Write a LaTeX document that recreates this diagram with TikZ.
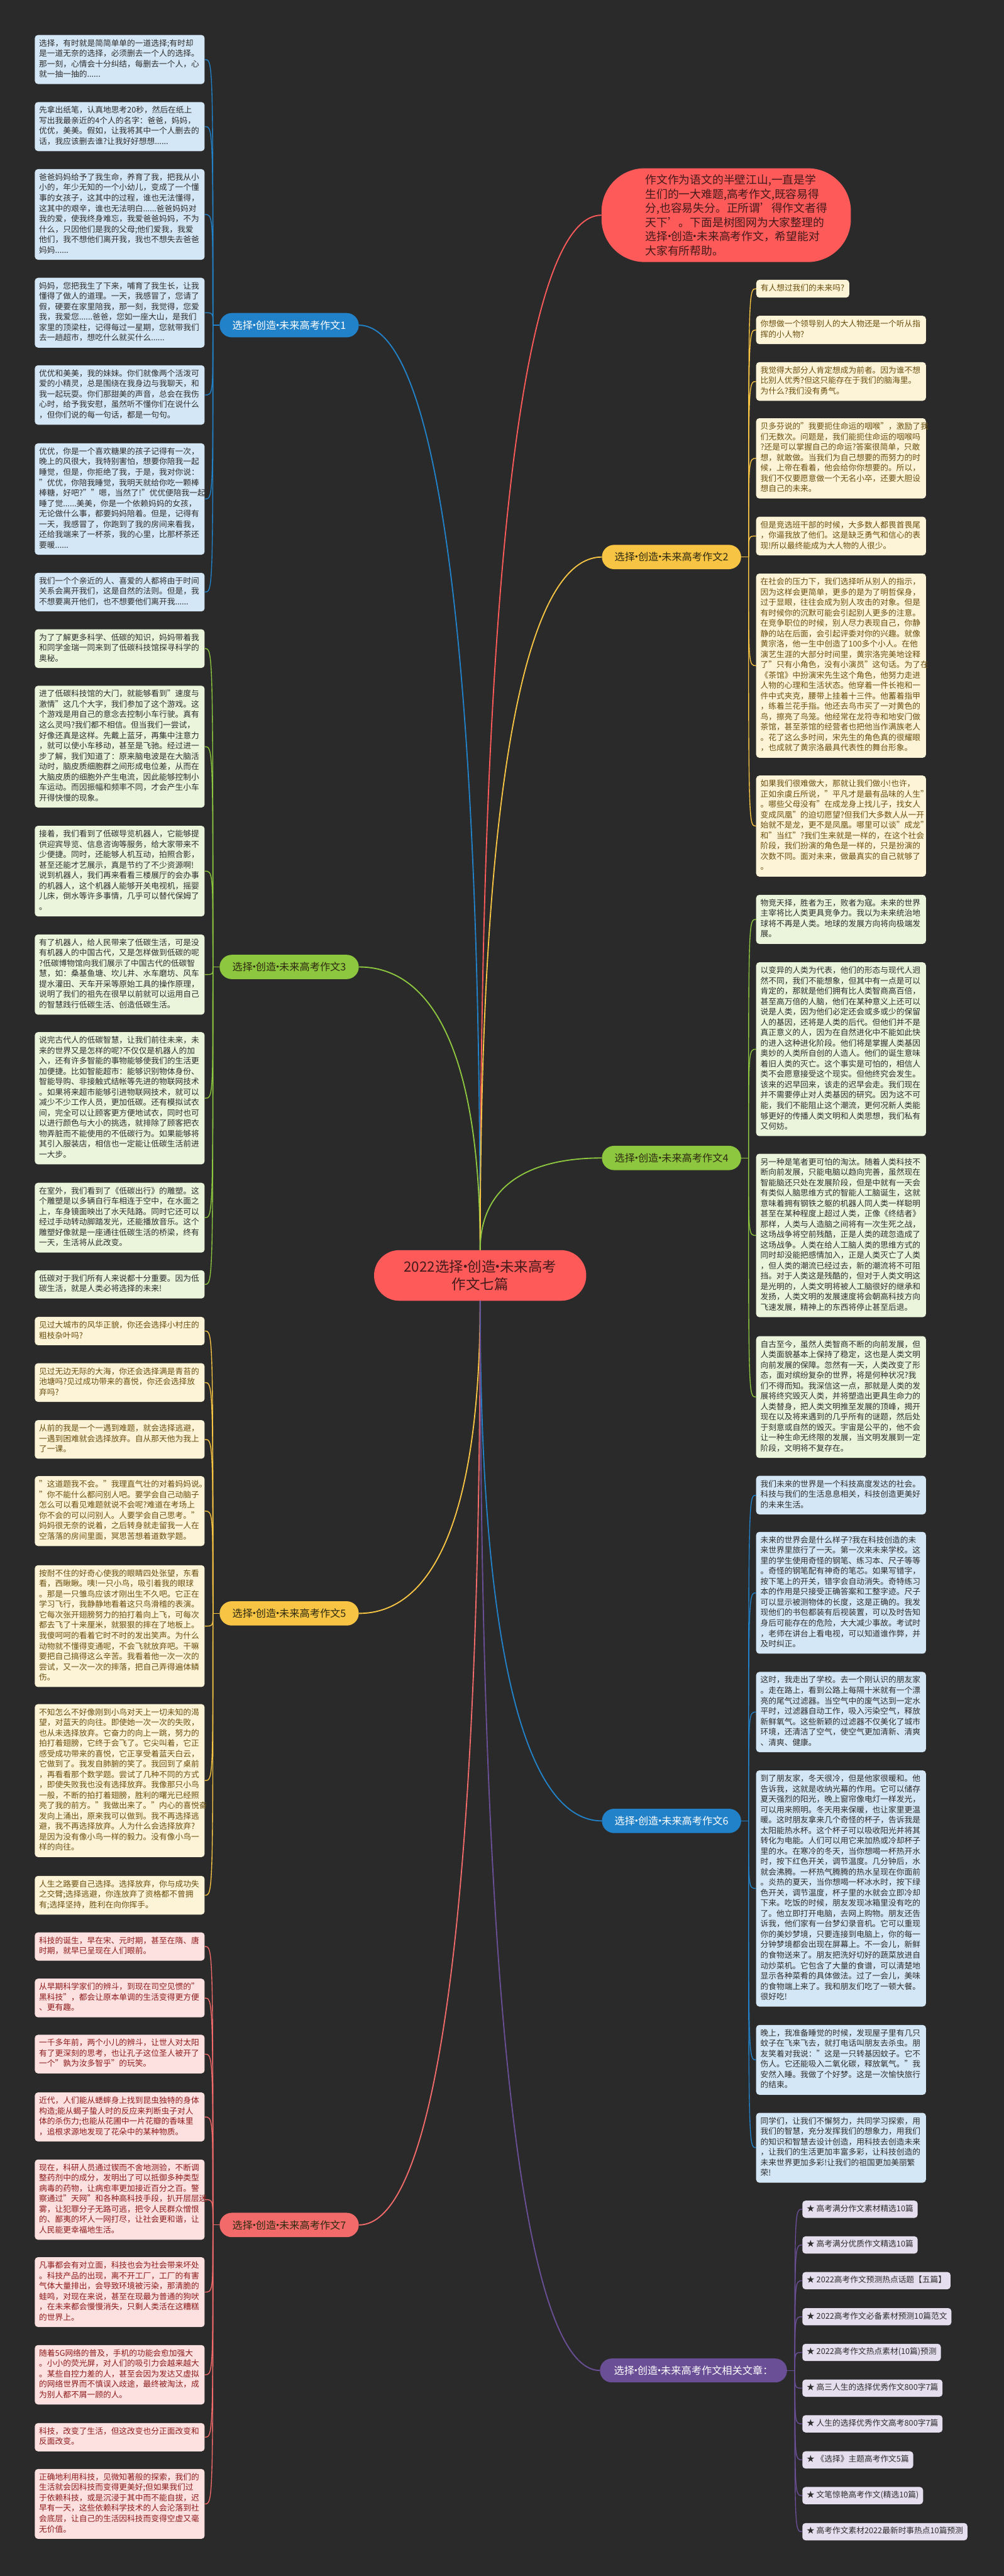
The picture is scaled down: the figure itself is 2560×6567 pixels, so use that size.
\documentclass[tikz,border=0pt]{standalone}
\usepackage{fontspec}
\setmainfont{Noto Sans CJK SC}
\usetikzlibrary{calc}
\definecolor{bg}{HTML}{2A2A2A}
\definecolor{cRed}{HTML}{FF5A5A}
\definecolor{cRedTxt}{HTML}{451A1A}
\definecolor{cBlue}{HTML}{2282C9}
\definecolor{cGreen}{HTML}{8DC63F}
\definecolor{cYellow}{HTML}{F7C443}
\definecolor{cPink}{HTML}{F26A6A}
\definecolor{cPurple}{HTML}{6A4E96}
\definecolor{fBlue}{HTML}{D4E7F6}
\definecolor{fGreen}{HTML}{EBF5DB}
\definecolor{fYellow}{HTML}{FDF4D7}
\definecolor{fPink}{HTML}{FDE1E1}
\definecolor{fPurple}{HTML}{E4DEEE}
\definecolor{tYellow}{HTML}{6B4F10}
\definecolor{tPink}{HTML}{8E1B1B}
\definecolor{tDark}{HTML}{2E2E2E}
\definecolor{tPill}{HTML}{2E2A10}
\newcommand\mmBF{\fontsize{20.4pt}{26.5pt}\selectfont}
\newcommand\mmPF{\fontsize{26pt}{30pt}\selectfont}
\newcommand\mmT[1]{\strut#1\strut}
\newcommand\mmd{\hbox to 0.3em{\hss·\hss}}
\begin{document}
\begin{tikzpicture}[x=1pt,y=-1pt,
  tbox/.style={rounded corners=8pt, inner xsep=11pt, inner ysep=9.5pt, text width=411pt, align=left, anchor=north, font=\mmBF},
  blbox/.style={tbox, fill=fBlue, text=tDark},
  grbox/.style={tbox, fill=fGreen, text=tDark},
  yebox/.style={tbox, fill=fYellow, text=tYellow},
  pkbox/.style={tbox, fill=fPink, text=tPink},
  pubox/.style={rounded corners=8pt, inner xsep=11pt, inner ysep=8.75pt, anchor=west, font=\mmBF, fill=fPurple, text=tDark},
  pill/.style={rounded corners=31pt, minimum width=355pt, minimum height=62pt, inner sep=0pt, font=\mmPF},
  cc/.style={line width=3pt},
  bc/.style={line width=2.2pt}]
\fill[bg] (0,0) rectangle (2560,6567);
\useasboundingbox (0,0) rectangle (2560,6567);

% ---------- central and intro ----------
\node[fill=cRed, text=cRedTxt, rounded corners=64pt, minimum width=541pt, minimum height=129pt, align=center, font=\fontsize{36pt}{45pt}\selectfont] (ctr) at (1224.5,3251.5) {2022选择\mmd 创造\mmd 未来高考\\作文七篇};
\node[fill=cRed, text=cRedTxt, rounded corners=110pt, minimum width=636pt, minimum height=239pt, text width=412pt, align=left, font=\fontsize{28.5pt}{36pt}\selectfont] (intro) at (1852,548.5) {作文作为语文的半壁江山,一直是学\\生们的一大难题,高考作文,既容易得\\分,也容易失分。正所谓'得作文者得\\天下'。下面是树图网为大家整理的\\选择\mmd 创造\mmd 未来高考作文，希望能对\\大家有所帮助。};

% ---------- branch pills ----------
\node[pill, fill=cBlue, text=white] (p1) at (737.5,829) {选择\mmd 创造\mmd 未来高考作文1};
\node[pill, fill=cYellow, text=tPill] (p2) at (1712.5,1420) {选择\mmd 创造\mmd 未来高考作文2};
\node[pill, fill=cGreen, text=tPill] (p3) at (737.5,2465) {选择\mmd 创造\mmd 未来高考作文3};
\node[pill, fill=cGreen, text=tPill] (p4) at (1712.5,2952) {选择\mmd 创造\mmd 未来高考作文4};
\node[pill, fill=cYellow, text=tPill] (p5) at (737.5,4113) {选择\mmd 创造\mmd 未来高考作文5};
\node[pill, fill=cBlue, text=white] (p6) at (1712.5,4642) {选择\mmd 创造\mmd 未来高考作文6};
\node[pill, fill=cPink, text=tPill] (p7) at (737.5,5672) {选择\mmd 创造\mmd 未来高考作文7};
\node[pill, fill=cPurple, text=white, minimum width=477pt, minimum height=61pt, rounded corners=30pt] (p8) at (1768.5,6043) {选择\mmd 创造\mmd 未来高考作文相关文章：};

% ---------- branch 1 (blue, left) ----------
\node[blbox] (a1) at (305.3,89) {\mmT{选择，有时就是简简单单的一道选择;有时却\\是一道无奈的选择，必须删去一个人的选择。\\那一刻，心情会十分纠结，每删去一个人，心\\就一抽一抽的......}};
\node[blbox] (a2) at (305.3,260) {\mmT{先拿出纸笔，认真地思考20秒，然后在纸上\\写出我最亲近的4个人的名字：爸爸，妈妈，\\优优，美美。假如，让我将其中一个人删去的\\话，我应该删去谁?让我好好想想......}};
\node[blbox] (a3) at (305.3,431) {\mmT{爸爸妈妈给予了我生命，养育了我，把我从小\\小的，年少无知的一个小幼儿，变成了一个懂\\事的女孩子，这其中的过程，谁也无法懂得，\\这其中的艰辛，谁也无法明白......爸爸妈妈对\\我的爱，使我终身难忘，我爱爸爸妈妈，不为\\什么，只因他们是我的父母;他们爱我，我爱\\他们，我不想他们离开我，我也不想失去爸爸\\妈妈......}};
\node[blbox] (a4) at (305.3,708) {\mmT{妈妈，您把我生了下来，哺育了我生长，让我\\懂得了做人的道理。一天，我感冒了，您请了\\假，硬要在家里陪我，那一刻，我觉得，您爱\\我，我爱您......爸爸，您如一座大山，是我们\\家里的顶梁柱，记得每过一星期，您就带我们\\去一趟超市，想吃什么就买什么......}};
\node[blbox] (a5) at (305.3,931) {\mmT{优优和美美，我的妹妹。你们就像两个活泼可\\爱的小精灵，总是围绕在我身边与我聊天，和\\我一起玩耍。你们那甜美的声音，总会在我伤\\心时，给予我安慰，虽然听不懂你们在说什么\\，但你们说的每一句话，都是一句句。}};
\node[blbox] (a6) at (305.3,1130) {\mmT{优优，你是一个喜欢糖果的孩子记得有一次，\\晚上的风很大，我特别害怕，想要你陪我一起\\睡觉，但是，你拒绝了我，于是，我对你说：\\"优优，你陪我睡觉，我明天就给你吃一颗棒\\棒糖，好吧?""嗯，当然了!"优优便陪我一起\\睡了觉......美美，你是一个依赖妈妈的女孩，\\无论做什么事，都要妈妈陪着。但是，记得有\\一天，我感冒了，你跑到了我的房间来看我，\\还给我端来了一杯茶，我的心里，比那杯茶还\\要暖......}};
\node[blbox] (a7) at (305.3,1460) {\mmT{我们一个个亲近的人、喜爱的人都将由于时间\\关系会离开我们，这是自然的法则。但是，我\\不想要离开他们，也不想要他们离开我......}};

% ---------- branch 3 (green, left) ----------
\node[grbox] (c1) at (305.3,1604) {\mmT{为了了解更多科学、低碳的知识，妈妈带着我\\和同学金瑞一同来到了低碳科技馆探寻科学的\\奥秘。}};
\node[grbox] (c2) at (305.3,1748) {\mmT{进了低碳科技馆的大门，就能够看到"速度与\\激情"这几个大字，我们参加了这个游戏。这\\个游戏是用自己的意念去控制小车行驶。真有\\这么灵吗?我们都不相信。但当我们一尝试，\\好像还真是这样。先戴上蓝牙，再集中注意力\\，就可以使小车移动，甚至是飞驰。经过进一\\步了解，我们知道了：原来脑电波是在大脑活\\动时，脑皮质细胞群之间形成电位差，从而在\\大脑皮质的细胞外产生电流，因此能够控制小\\车运动。而因振幅和频率不同，才会产生小车\\开得快慢的现象。}};
\node[grbox] (c3) at (305.3,2105) {\mmT{接着，我们看到了低碳导览机器人，它能够提\\供迎宾导览、信息咨询等服务，给大家带来不\\少便捷。同时，还能够人机互动，拍照合影，\\甚至还能才艺展示，真是节约了不少资源啊!\\说到机器人，我们再来看看三楼展厅的会办事\\的机器人，这个机器人能够开关电视机，摇婴\\儿床，倒水等许多事情，几乎可以替代保姆了\\。}};
\node[grbox] (c4) at (305.3,2382) {\mmT{有了机器人，给人民带来了低碳生活，可是没\\有机器人的中国古代，又是怎样做到低碳的呢\\?低碳博物馆向我们展示了中国古代的低碳智\\慧，如：桑基鱼塘、坎儿井、水车磨坊、风车\\提水灌田、天车开采等原始工具的操作原理，\\说明了我们的祖先在很早以前就可以运用自己\\的智慧践行低碳生活、创造低碳生活。}};
\node[grbox] (c5) at (305.3,2631) {\mmT{说完古代人的低碳智慧，让我们前往未来，未\\来的世界又是怎样的呢?不仅仅是机器人的加\\入，还有许多智能的事物能够使我们的生活更\\加便捷。比如智能超市：能够识别物体身份、\\智能导购、非接触式结帐等先进的物联网技术\\。如果将来超市能够引进物联网技术，就可以\\减少不少工作人员，更加低碳。还有模拟试衣\\间，完全可以让顾客更方便地试衣，同时也可\\以进行颜色与大小的挑选，就排除了顾客把衣\\物弄脏而不能使用的不低碳行为。如果能够将\\其引入服装店，相信也一定能让低碳生活前进\\一大步。}};
\node[grbox] (c6) at (305.3,3015) {\mmT{在室外，我们看到了《低碳出行》的雕塑。这\\个雕塑是以多辆自行车相连于空中，在水面之\\上，车身镜面映出了水天陆路。同时它还可以\\经过手动转动脚踏发光，还能播放音乐。这个\\雕塑好像就是一座通往低碳生活的桥梁，终有\\一天，生活将从此改变。}};
\node[grbox] (c7) at (305.3,3238) {\mmT{低碳对于我们所有人来说都十分重要。因为低\\碳生活，就是人类必将选择的未来!}};

% ---------- branch 5 (yellow, left) ----------
\node[yebox] (e1) at (305.3,3357) {\mmT{见过大城市的风华正貌，你还会选择小村庄的\\粗枝杂叶吗?}};
\node[yebox] (e2) at (305.3,3475) {\mmT{见过无边无际的大海，你还会选择满是青苔的\\池塘吗?见过成功带来的喜悦，你还会选择放\\弃吗?}};
\node[yebox] (e3) at (305.3,3620) {\mmT{从前的我是一个一遇到难题，就会选择逃避，\\一遇到困难就会选择放弃。自从那天他为我上\\了一课。}};
\node[yebox] (e4) at (305.3,3763) {\mmT{"这道题我不会。"我理直气壮的对着妈妈说。\\"你不能什么都问别人吧。要学会自己动脑子\\怎么可以看见难题就说不会呢?难道在考场上\\你不会的可以问别人。人要学会自己思考。"\\妈妈很无奈的说着，之后转身就走留我一人在\\空落落的房间里面，冥思苦想着道数学题。}};
\node[yebox] (e5) at (305.3,3990) {\mmT{按耐不住的好奇心使我的眼睛四处张望，东看\\看，西瞅瞅。咦!一只小鸟，吸引着我的眼球\\。那是一只雏鸟应该才刚出生不久吧。它正在\\学习飞行，我静静地看着这只鸟滑稽的表演。\\它每次张开翅膀努力的拍打着向上飞，可每次\\都去飞了十来厘米，就狠狠的摔在了地板上。\\我傻呵呵的看着它时不时的发出笑声。为什么\\动物就不懂得变通呢，不会飞就放弃吧。干嘛\\要把自己搞得这么辛苦。我看着他一次一次的\\尝试，又一次一次的摔落，把自己弄得遍体鳞\\伤。}};
\node[yebox] (e6) at (305.3,4344) {\mmT{不知怎么不好像刚到小鸟对天上一切未知的渴\\望，对蓝天的向往。即使她一次一次的失败，\\也从未选择放弃。它奋力的向上一跳，努力的\\拍打着翅膀，它终于会飞了。它尖叫着，它正\\感受成功带来的喜悦，它正享受着蓝天白云，\\它做到了。我发自肺腑的笑了。我回到了桌前\\，再看看那个数学题。尝试了几种不同的方式\\，即使失败我也没有选择放弃。我像那只小鸟\\一般，不断的拍打着翅膀，胜利的曙光已经照\\亮了我的前方。"我做出来了。"内心的喜悦奋\\发向上涌出，原来我可以做到。我不再选择逃\\避，我不再选择放弃。人为什么会选择放弃?\\是因为没有像小鸟一样的毅力。没有像小鸟一\\样的向往。}};
\node[yebox] (e7) at (305.3,4782) {\mmT{人生之路要自己选择。选择放弃，你与成功失\\之交臂;选择逃避，你连放弃了资格都不曾拥\\有;选择坚持，胜利在向你挥手。}};

% ---------- branch 7 (pink, left) ----------
\node[pkbox] (g1) at (305.3,4926) {\mmT{科技的诞生，早在宋、元时期，甚至在隋、唐\\时期，就早已呈现在人们眼前。}};
\node[pkbox] (g2) at (305.3,5044) {\mmT{从早期科学家们的辨斗，到现在司空见惯的"\\黑科技"，都会让原本单调的生活变得更方便\\、更有趣。}};
\node[pkbox] (g3) at (305.3,5187) {\mmT{一千多年前，两个小儿的辨斗，让世人对太阳\\有了更深刻的思考，也让孔子这位圣人被开了\\一个"孰为汝多智乎"的玩笑。}};
\node[pkbox] (g4) at (305.3,5334) {\mmT{近代，人们能从蟋蟀身上找到昆虫独特的身体\\构造;能从蝎子蛰人时的反应来判断虫子对人\\体的杀伤力;也能从花圃中一片花瓣的香味里\\，追根求源地发现了花朵中的某种物质。}};
\node[pkbox] (g5) at (305.3,5505) {\mmT{现在，科研人员通过锲而不舍地测验，不断调\\整药剂中的成分，发明出了可以抵御多种类型\\病毒的药物，让病愈率更加接近百分之百。警\\察通过"天网"和各种高科技手段，扒开层层迷\\雾，让犯罪分子无路可逃，把令人民群众憎恨\\的、鄙夷的坏人一网打尽，让社会更和谐，让\\人民能更幸福地生活。}};
\node[pkbox] (g6) at (305.3,5754) {\mmT{凡事都会有对立面，科技也会为社会带来坏处\\。科技产品的出现，离不开工厂，工厂的有害\\气体大量排出，会导致环境被污染，那清脆的\\蛙鸣，对现在来说，甚至在现最为普通的狗吠\\，在未来都会慢慢消失，只剩人类活在这糟糕\\的世界上。}};
\node[pkbox] (g7) at (305.3,5978) {\mmT{随着5G网络的普及，手机的功能会愈加强大\\。小小的荧光屏，对人们的吸引力会越来越大\\。某些自控力差的人，甚至会因为发达又虚拟\\的网络世界而不慎误入歧途，最终被淘汰，成\\为别人都不屑一顾的人。}};
\node[pkbox] (g8) at (305.3,6177) {\mmT{科技，改变了生活，但这改变也分正面改变和\\反面改变。}};
\node[pkbox] (g9) at (305.3,6294) {\mmT{正确地利用科技，见微知著般的探索，我们的\\生活就会因科技而变得更美好;但如果我们过\\于依赖科技，或是沉浸于其中而不能自拔，迟\\早有一天，这些依赖科学技术的人会沦落到社\\会底层，让自己的生活因科技而变得空虚又毫\\无价值。}};

% ---------- branch 2 (yellow, right) ----------
\node[yebox, text width=215pt, anchor=north west] (b1) at (1928.5,713) {\mmT{有人想过我们的未来吗?}};
\node[yebox] (b2) at (2144.8,805) {\mmT{你想做一个领导别人的大人物还是一个听从指\\挥的小人物?}};
\node[yebox] (b3) at (2144.8,923) {\mmT{我觉得大部分人肯定想成为前者。因为谁不想\\比别人优秀?但这只能存在于我们的脑海里。\\为什么?我们没有勇气。}};
\node[yebox] (b4) at (2144.8,1066) {\mmT{贝多芬说的"我要扼住命运的咽喉"，激励了我\\们无数次。问题是，我们能扼住命运的咽喉吗\\?还是可以掌握自己的命运?答案很简单，只敢\\想，就敢做。当我们为自己想要的而努力的时\\候，上帝在看着，他会给你你想要的。所以，\\我们不仅要愿意做一个无名小卒，还要大胆设\\想自己的未来。}};
\node[yebox] (b5) at (2144.8,1317) {\mmT{但是竞选班干部的时候，大多数人都畏首畏尾\\，你逼我放了他们。这是缺乏勇气和信心的表\\现!所以最终能成为大人物的人很少。}};
\node[yebox] (b6) at (2144.8,1462) {\mmT{在社会的压力下，我们选择听从别人的指示，\\因为这样会更简单，更多的是为了明哲保身，\\过于显眼，往往会成为别人攻击的对象。但是\\有时候你的沉默可能会引起别人更多的注意。\\在竞争职位的时候，别人尽力表现自己，你静\\静的站在后面，会引起评委对你的兴趣。就像\\黄宗洛，他一生中创造了100多个小人。在他\\演艺生涯的大部分时间里，黄宗洛完美地诠释\\了"只有小角色，没有小演员"这句话。为了在\\《茶馆》中扮演宋先生这个角色，他努力走进\\人物的心理和生活状态。他穿着一件长袍和一\\件中式夹克，腰带上挂着十三件。他蓄着指甲\\，练着兰花手指。他还去鸟市买了一对黄色的\\鸟，擦亮了鸟笼。他经常在龙符寺和地安门做\\茶馆，甚至茶馆的经营者也把他当作满族老人\\。花了这么多时间，宋先生的角色真的很耀眼\\，也成就了黄宗洛最具代表性的舞台形象。}};
\node[yebox] (b7) at (2144.8,1977) {\mmT{如果我们很难做大，那就让我们做小!也许，\\正如余虞丘所说，"平凡才是最有品味的人生"\\。哪些父母没有"在成龙身上找儿子，找女人\\变成凤凰"的迫切愿望?但我们大多数人从一开\\始就不是龙，更不是凤凰。哪里可以谈"成龙"\\和"当红"?我们生来就是一样的，在这个社会\\阶段，我们扮演的角色是一样的，只是扮演的\\次数不同。面对未来，做最真实的自己就够了\\。}};

% ---------- branch 4 (green, right) ----------
\node[grbox] (d1) at (2144.8,2281) {\mmT{物竞天择，胜者为王，败者为寇。未来的世界\\主宰将比人类更具竞争力。我以为未来统治地\\球将不再是人类。地球的发展方向将向极端发\\展。}};
\node[grbox] (d2) at (2144.8,2453) {\mmT{以变异的人类为代表，他们的形态与现代人迥\\然不同，我们不能想象，但其中有一点是可以\\肯定的，那就是他们拥有比人类智商高百倍，\\甚至高万倍的人脑，他们在某种意义上还可以\\说是人类，因为他们必定还会或多或少的保留\\人的基因，还将是人类的后代。但他们并不是\\真正意义的人，因为在自然进化中不能如此快\\的进入这种进化阶段。他们将是掌握人类基因\\奥妙的人类所自创的人造人。他们的诞生意味\\着旧人类的灭亡。这个事实是可怕的，相信人\\类不会愿意接受这个现实。但他终究会发生。\\该来的迟早回来，该走的迟早会走。我们现在\\并不需要停止对人类基因的研究。因为这不可\\能，我们不能阻止这个潮流，更何况新人类能\\够更好的传播人类文明和人类思想，我们私有\\又何妨。}};
\node[grbox] (d3) at (2144.8,2941) {\mmT{另一种是笔者更可怕的淘汰。随着人类科技不\\断向前发展，只能电脑以趋向完善，虽然现在\\智能脑还只处在发展阶段，但是中就有一天会\\有类似人脑思维方式的智能人工脑诞生，这就\\意味着拥有钢铁之躯的机器人同人类一样聪明\\甚至在某种程度上超过人类，正像《终结者》\\那样，人类与人造脑之间将有一次生死之战，\\这场战争将空前残酷，正是人类的疏忽造成了\\这场战争。人类在给人工脑人类的思维方式的\\同时却没能把感情加入，正是人类灭亡了人类\\，但人类的潮流已经过去，新的潮流将不可阻\\挡。对于人类这是残酷的，但对于人类文明这\\是光明的，人类文明将被人工脑很好的继承和\\发扬，人类文明的发展速度将会朝高科技方向\\飞速发展，精神上的东西将停止甚至后退。}};
\node[grbox] (d4) at (2144.8,3406) {\mmT{自古至今，虽然人类智商不断的向前发展，但\\人类面貌基本上保持了稳定，这也是人类文明\\向前发展的保障。忽然有一天，人类改变了形\\态，面对缤纷复杂的世界，将是何种状况?我\\们不得而知。我深信这一点，那就是人类的发\\展将终究毁灭人类，并将塑造出更具生命力的\\人类替身，把人类文明推至发展的顶峰，揭开\\现在以及将来遇到的几乎所有的谜题，然后处\\于刻意或自然的毁灭。宇宙是公平的，他不会\\让一种生命无终限的发展，当文明发展到一定\\阶段，文明将不复存在。}};

% ---------- branch 6 (blue, right) ----------
\node[blbox] (f1) at (2144.8,3762) {\mmT{我们未来的世界是一个科技高度发达的社会。\\科技与我们的生活息息相关，科技创造更美好\\的未来生活。}};
\node[blbox] (f2) at (2144.8,3905) {\mmT{未来的世界会是什么样子?我在科技创造的未\\来世界里旅行了一天。第一次来未来学校。这\\里的学生使用奇怪的钢笔、练习本、尺子等等\\。奇怪的钢笔配有神奇的笔芯。如果写错字，\\按下笔上的开关，错字会自动消失。奇特练习\\本的作用是只接受正确答案和工整字迹。尺子\\可以显示被测物体的长度，这是正确的。我发\\现他们的书包都装有后视装置，可以及时告知\\身后可能存在的危险，大大减少事故。考试时\\，老师在讲台上看电视，可以知道谁作弊，并\\及时纠正。}};
\node[blbox] (f3) at (2144.8,4262) {\mmT{这时，我走出了学校。去一个刚认识的朋友家\\。走在路上，看到公路上每隔十米就有一个漂\\亮的尾气过滤器。当空气中的废气达到一定水\\平时，过滤器自动工作，吸入污染空气，释放\\新鲜氧气。这些新颖的过滤器不仅美化了城市\\环境，还清洁了空气，使空气更加清新、清爽\\、清爽、健康。}};
\node[blbox] (f4) at (2144.8,4513) {\mmT{到了朋友家，冬天很冷，但是他家很暖和。他\\告诉我，这就是收纳光幕的作用。它可以储存\\夏天强烈的阳光，晚上窗帘像电灯一样发光，\\可以用来照明。冬天用来保暖，也让家里更温\\暖。这时朋友拿来几个奇怪的杯子，告诉我是\\太阳能热水杯。这个杯子可以吸收阳光并将其\\转化为电能。人们可以用它来加热或冷却杯子\\里的水。在寒冷的冬天，当你想喝一杯热开水\\时，按下红色开关，调节温度。几分钟后，水\\就会沸腾。一杯热气腾腾的热水呈现在你面前\\。炎热的夏天，当你想喝一杯冰水时，按下绿\\色开关，调节温度，杯子里的水就会立即冷却\\下来。吃饭的时候，朋友发现冰箱里没有吃的\\了。他立即打开电脑，去网上购物。朋友还告\\诉我，他们家有一台梦幻录音机。它可以重现\\你的美妙梦境，只要连接到电脑上，你的每一\\分钟梦境都会出现在屏幕上。不一会儿，新鲜\\的食物送来了。朋友把洗好切好的蔬菜放进自\\动炒菜机。它包含了大量的食谱，可以清楚地\\显示各种菜肴的具体做法。过了一会儿，美味\\的食物端上来了。我和朋友们吃了一顿大餐。\\很好吃!}};
\node[blbox] (f5) at (2144.8,5162) {\mmT{晚上，我准备睡觉的时候，发现屋子里有几只\\蚊子在飞来飞去，就打电话叫朋友去杀虫。朋\\友笑着对我说："这是一只转基因蚊子。它不\\伤人。它还能吸入二氧化碳，释放氧气。"我\\安然入睡。我做了个好梦。这是一次愉快旅行\\的结束。}};
\node[blbox] (f6) at (2144.8,5386) {\mmT{同学们，让我们不懈努力，共同学习探索，用\\我们的智慧，充分发挥我们的想象力，用我们\\的知识和智慧去设计创造，用科技去创造未来\\，让我们的生活更加丰富多彩，让科技创造的\\未来世界更加多彩!让我们的祖国更加美丽繁\\荣!}};

% ---------- related articles (purple) ----------
\node[pubox] (h1) at (2046,5632) {\strut★ 高考满分作文素材精选10篇};
\node[pubox] (h2) at (2046,5723) {\strut★ 高考满分优质作文精选10篇};
\node[pubox] (h3) at (2046,5814) {\strut★ 2022高考作文预测热点话题【五篇】};
\node[pubox] (h4) at (2046,5906) {\strut★ 2022高考作文必备素材预测10篇范文};
\node[pubox] (h5) at (2046,5997) {\strut★ 2022高考作文热点素材(10篇)预测};
\node[pubox] (h6) at (2046,6088) {\strut★ 高三人生的选择优秀作文800字7篇};
\node[pubox] (h7) at (2046,6179) {\strut★ 人生的选择优秀作文高考800字7篇};
\node[pubox] (h8) at (2046,6271) {\strut★ 《选择》主题高考作文5篇};
\node[pubox] (h9) at (2046,6362) {\strut★ 文笔惊艳高考作文(精选10篇)};
\node[pubox] (h10) at (2046,6454) {\strut★ 高考作文素材2022最新时事热点10篇预测};

% ---------- junctions ----------
\coordinate (j1) at (543,829);
\coordinate (j3) at (543,2465);
\coordinate (j5) at (543,4113);
\coordinate (j7) at (543,5672);
\coordinate (j2) at (1909,1420);
\coordinate (j4) at (1909,2952);
\coordinate (j6) at (1909,4642);
\coordinate (j8) at (2027,6043);

% ---------- center to branches ----------
\draw[cc, cRed] (ctr.north) .. controls ($(ctr.north)!0.7!(ctr.north |- intro.west)$) and ($(intro.west)!0.6!(ctr.north |- intro.west)$) .. (intro.west);
\foreach \p/\c in {p1/cBlue, p3/cGreen}
  \draw[cc, \c] (ctr.north) .. controls ($(ctr.north)!0.7!(ctr.north |- \p.east)$) and ($(\p.east)!0.6!(ctr.north |- \p.east)$) .. (\p.east);
\foreach \p/\c in {p2/cYellow, p4/cGreen}
  \draw[cc, \c] (ctr.north) .. controls ($(ctr.north)!0.7!(ctr.north |- \p.west)$) and ($(\p.west)!0.6!(ctr.north |- \p.west)$) .. (\p.west);
\foreach \p/\c in {p5/cYellow, p7/cPink}
  \draw[cc, \c] (ctr.south) .. controls ($(ctr.south)!0.7!(ctr.south |- \p.east)$) and ($(\p.east)!0.6!(ctr.south |- \p.east)$) .. (\p.east);
\foreach \p/\c in {p6/cBlue, p8/cPurple}
  \draw[cc, \c] (ctr.south) .. controls ($(ctr.south)!0.7!(ctr.south |- \p.west)$) and ($(\p.west)!0.6!(ctr.south |- \p.west)$) .. (\p.west);

% ---------- pills to boxes ----------
\draw[bc, cBlue] (p1.west) -- (j1);
\foreach \b in {a1,a2,a3,a4,a5,a6,a7}
  \draw[bc, cBlue] (j1) .. controls (j1 |- \b.east) .. (\b.east);
\draw[bc, cGreen] (p3.west) -- (j3);
\foreach \b in {c1,c2,c3,c4,c5,c6,c7}
  \draw[bc, cGreen] (j3) .. controls (j3 |- \b.east) .. (\b.east);
\draw[bc, cYellow] (p5.west) -- (j5);
\foreach \b in {e1,e2,e3,e4,e5,e6,e7}
  \draw[bc, cYellow] (j5) .. controls (j5 |- \b.east) .. (\b.east);
\draw[bc, cPink] (p7.west) -- (j7);
\foreach \b in {g1,g2,g3,g4,g5,g6,g7,g8,g9}
  \draw[bc, cPink] (j7) .. controls (j7 |- \b.east) .. (\b.east);
\draw[bc, cYellow] (p2.east) -- (j2);
\foreach \b in {b1,b2,b3,b4,b5,b6,b7}
  \draw[bc, cYellow] (j2) .. controls (j2 |- \b.west) .. (\b.west);
\draw[bc, cGreen] (p4.east) -- (j4);
\foreach \b in {d1,d2,d3,d4}
  \draw[bc, cGreen] (j4) .. controls (j4 |- \b.west) .. (\b.west);
\draw[bc, cBlue] (p6.east) -- (j6);
\foreach \b in {f1,f2,f3,f4,f5,f6}
  \draw[bc, cBlue] (j6) .. controls (j6 |- \b.west) .. (\b.west);
\draw[bc, cPurple] (p8.east) -- (j8);
\foreach \b in {h1,h2,h3,h4,h5,h6,h7,h8,h9,h10}
  \draw[bc, cPurple] (j8) .. controls (j8 |- \b.west) .. (\b.west);
\end{tikzpicture}
\end{document}
